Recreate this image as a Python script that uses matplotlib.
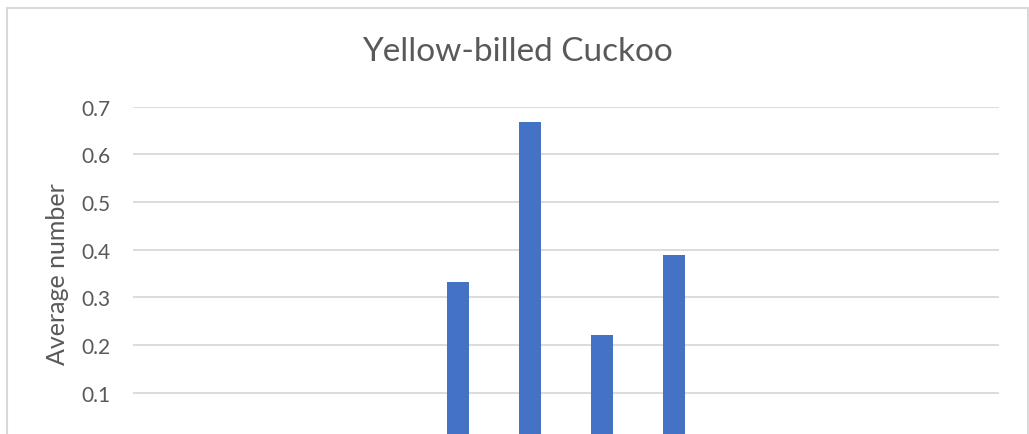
import matplotlib
matplotlib.use("Agg")
import matplotlib.pyplot as plt
from matplotlib.patches import Rectangle

months = ["Jan", "Feb", "Mar", "Apr", "May", "Jun", "Jul", "Aug", "Sep", "Oct", "Nov", "Dec"]
values = [0, 0, 0, 0, 0.333, 0.667, 0.222, 0.389, 0, 0, 0, 0]
yticks = [0, 0.1, 0.2, 0.3, 0.4, 0.5, 0.6, 0.7]
title = "Yellow-billed Cuckoo"
ylabel = "Average number"

plt.rcParams['font.family'] = ['Lato', 'DejaVu Sans']
W, H = 1029, 435
fig = plt.figure(figsize=(W / 100, H / 100), dpi=100)

# chart border
fig.patches.append(Rectangle((6.5 / W, -0.1), (1027.5 - 6.5) / W, 1.1 - 8.5 / H,
                             transform=fig.transFigure, fill=False,
                             edgecolor='#d9d9d9', linewidth=1.5))

left, right = 133 / W, 999 / W
ytop = 1 - 107.7 / H
ybot = 1 - 441.3 / H
ax = fig.add_axes([left, ybot, right - left, ytop - ybot])

x = list(range(len(months)))
ax.bar(x, values, width=0.305, color='#4472c4', zorder=3)
ax.set_xlim(-0.5, len(months) - 0.5)
ax.set_ylim(0, 0.7)
ax.set_yticks(yticks)
ax.set_yticklabels([f"{v:g}" for v in yticks])
ax.set_xticks(x)
ax.set_xticklabels(months)
ax.grid(axis='y', color='#d9d9d9', linewidth=1.3, zorder=0)
for s in ax.spines.values():
    s.set_visible(False)
ax.tick_params(axis='y', length=0, pad=16, labelsize=15, labelcolor='#595959')
ax.tick_params(axis='x', length=0, labelsize=15, labelcolor='#595959')
ax.set_ylabel(ylabel, fontsize=18, color='#595959', labelpad=9)

fig.text(517.5 / W, 1 - 52 / H, title, ha='center', va='center',
         fontsize=24, color='#595959')

fig.savefig("out.png", dpi=100)
